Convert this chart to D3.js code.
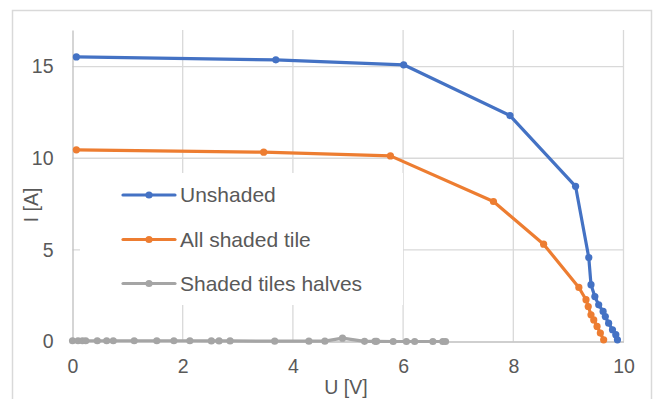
<!DOCTYPE html>
<html>
<head>
<meta charset="utf-8">
<script src="https://cdn.jsdelivr.net/npm/d3@7"></script>
<style>
  html, body { margin: 0; padding: 0; background: #fff; }
  svg { display: block; font-family: "Liberation Sans", Arial, sans-serif; }
</style>
</head>
<body>
<svg id="chart" width="653" height="399"></svg>
<script>
// ---- data ----
const unshadedU = [0.07, 3.69, 6.01, 7.94, 9.13, 9.37, 9.41, 9.48, 9.55, 9.63, 9.67, 9.73, 9.80, 9.86, 9.89];
const unshadedI = [15.53, 15.37, 15.10, 12.33, 8.47, 4.58, 3.10, 2.45, 2.00, 1.64, 1.36, 1.00, 0.64, 0.37, 0.09];

const shadedU = [0.07, 3.47, 5.77, 7.64, 8.55, 9.19, 9.32, 9.36, 9.41, 9.46, 9.52, 9.58, 9.64];
const shadedI = [10.46, 10.33, 10.13, 7.64, 5.31, 2.95, 2.28, 1.91, 1.46, 1.18, 0.82, 0.46, 0.09];

const halvesU = [0.00, 0.10, 0.18, 0.24, 0.45, 0.62, 0.74, 1.12, 1.53, 1.84, 2.13, 2.52, 2.66, 2.86,
                 3.67, 4.29, 4.58, 4.90, 5.30, 5.49, 5.52, 5.82, 6.06, 6.21, 6.54, 6.72, 6.77];
const halvesI = [0.04, 0.04, 0.04, 0.04, 0.04, 0.04, 0.04, 0.04, 0.04, 0.04, 0.04, 0.03, 0.03, 0.03,
                 0.02, 0.02, 0.02, 0.18, 0.01, 0.01, 0.01, 0.0, 0.0, 0.0, 0.0, 0.0, 0.0];

const seriesNames = ["Unshaded", "All shaded tile", "Shaded tiles halves"];
const seriesColors = ["#4472C4", "#ED7D31", "#A5A5A5"];
const xTicks = [0, 2, 4, 6, 8, 10];
const yTicks = [0, 5, 10, 15];
const xTitle = "U [V]";
const yTitle = "I [A]";

// ---- drawing ----
const svg = d3.select("#chart");
const x = d3.scaleLinear().domain([0, 10]).range([72.5, 623.5]);
const y = d3.scaleLinear().domain([0, 17]).range([341.5, 30]);
const textColor = "#595959";

// chart border
svg.append("rect").attr("x", 12.5).attr("y", 10.5).attr("width", 639).attr("height", 400)
  .attr("fill", "#fff").attr("stroke", "#D9D9D9").attr("stroke-width", 1.5);

// gridlines
svg.append("g").selectAll("line").data(yTicks.filter(d => d > 0)).join("line")
  .attr("x1", x(0)).attr("x2", x(10)).attr("y1", d => y(d)).attr("y2", d => y(d))
  .attr("stroke", "#D9D9D9").attr("stroke-width", 1.3);
svg.append("g").selectAll("line").data(xTicks.filter(d => d > 0)).join("line")
  .attr("x1", d => x(d)).attr("x2", d => x(d)).attr("y1", y(17)).attr("y2", y(0))
  .attr("stroke", "#D9D9D9").attr("stroke-width", 1.3);

// axes
const xAxis = d3.axisBottom(x).tickValues(xTicks).tickSize(0).tickPadding(18);
const yAxis = d3.axisLeft(y).tickValues(yTicks).tickSize(0).tickPadding(19);
const gx = svg.append("g").attr("transform", `translate(0,${y(0)})`).call(xAxis);
const gy = svg.append("g").attr("transform", `translate(${x(0)},0)`).call(yAxis);
[gx, gy].forEach(g => {
  g.select(".domain").attr("stroke", "#BFBFBF").attr("stroke-width", 1.3);
  g.selectAll("text").attr("fill", textColor).attr("font-size", 19.5)
    .attr("font-family", "Liberation Sans, Arial, sans-serif");
});

// axis titles
svg.append("text").attr("x", 346).attr("y", 394).attr("text-anchor", "middle")
  .attr("fill", textColor).attr("font-size", 19.5).text(xTitle);
svg.append("text").attr("transform", "translate(38,205) rotate(-90)").attr("text-anchor", "middle")
  .attr("fill", textColor).attr("font-size", 19.5).text(yTitle);

// series
const allSeries = [
  unshadedU.map((u, i) => [u, unshadedI[i]]),
  shadedU.map((u, i) => [u, shadedI[i]]),
  halvesU.map((u, i) => [u, halvesI[i]])
];
const line = d3.line().x(d => x(d[0])).y(d => y(d[1]));
[2, 1, 0].forEach(k => {
  const g = svg.append("g");
  g.append("path").datum(allSeries[k]).attr("d", line).attr("fill", "none")
    .attr("stroke", seriesColors[k]).attr("stroke-width", 3.2).attr("stroke-linejoin", "round")
    .attr("stroke-linecap", "round");
  g.selectAll("circle").data(allSeries[k]).join("circle")
    .attr("cx", d => x(d[0])).attr("cy", d => y(d[1])).attr("r", 3.6)
    .attr("fill", seriesColors[k]);
});

// legend
svg.append("rect").attr("x", 80).attr("y", 173).attr("width", 323).attr("height", 132).attr("fill", "#fff");
const legY = [195, 239.5, 283.5];
seriesNames.forEach((name, k) => {
  const g = svg.append("g");
  g.append("line").attr("x1", 123).attr("x2", 175).attr("y1", legY[k]).attr("y2", legY[k])
    .attr("stroke", seriesColors[k]).attr("stroke-width", 3.2).attr("stroke-linecap", "round");
  g.append("circle").attr("cx", 149).attr("cy", legY[k]).attr("r", 3.6).attr("fill", seriesColors[k]);
  g.append("text").attr("x", 180).attr("y", legY[k]).attr("dy", "0.35em")
    .attr("fill", textColor).attr("font-size", 21).text(name);
});
</script>
</body>
</html>
